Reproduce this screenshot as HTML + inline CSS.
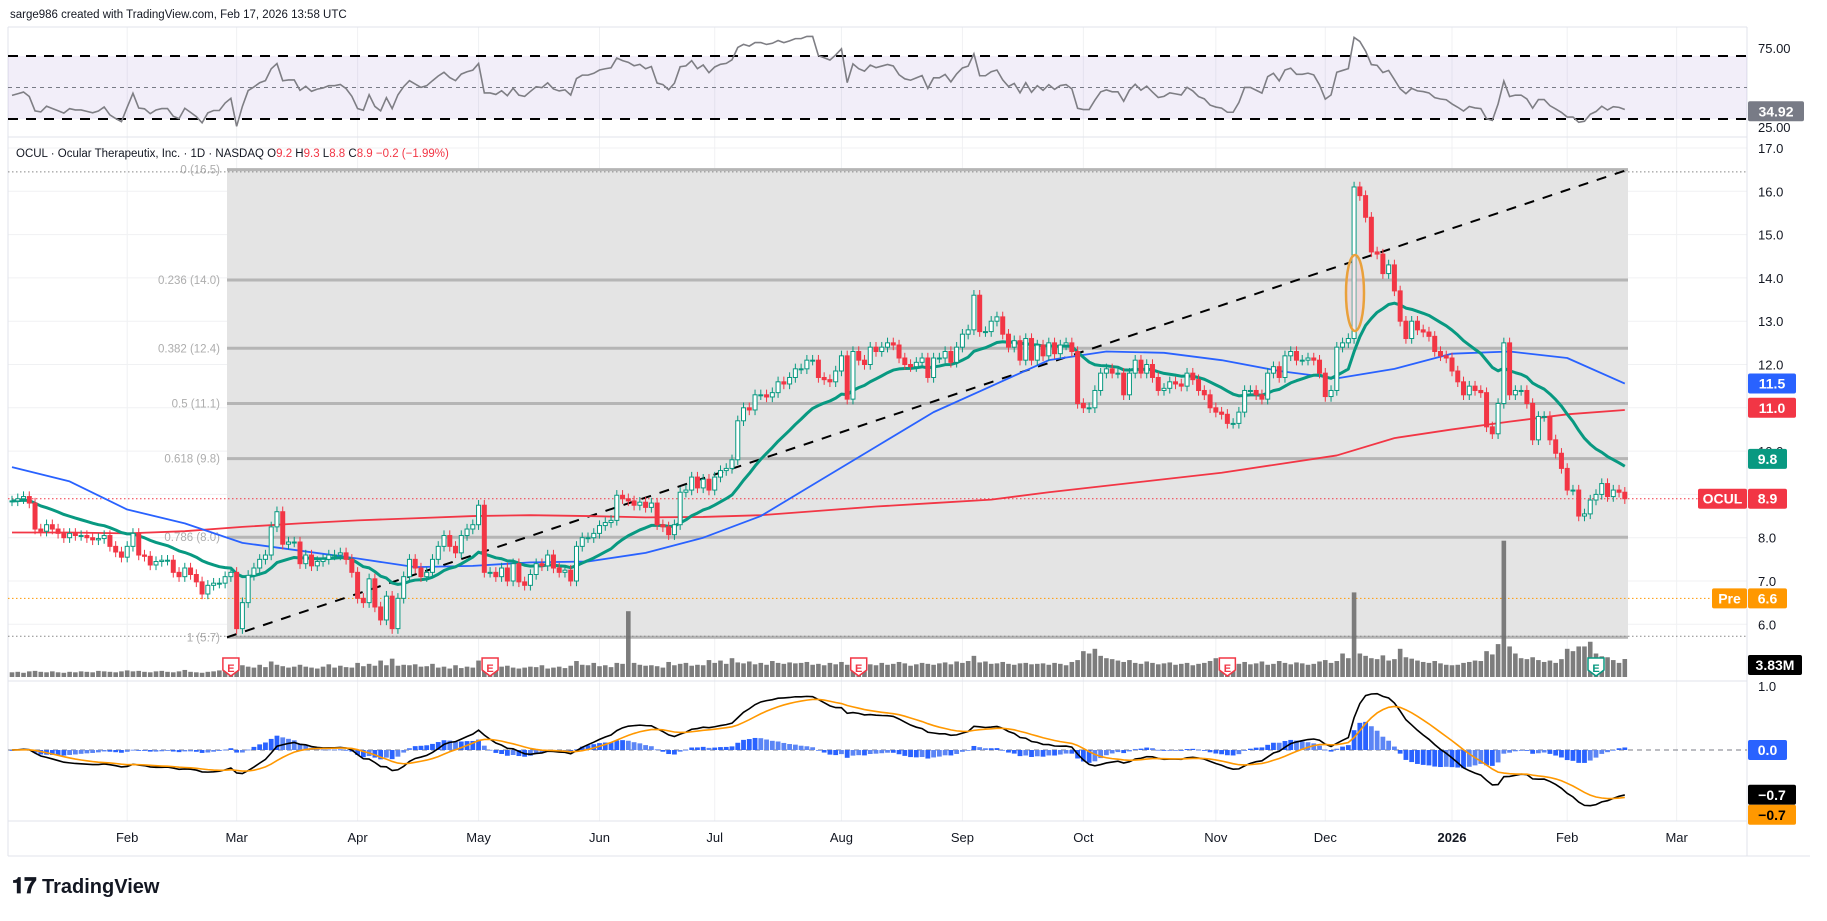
<!DOCTYPE html>
<html><head><meta charset="utf-8"><style>
html,body{margin:0;padding:0;background:#fff;}
body{width:1827px;height:916px;overflow:hidden;font-family:"Liberation Sans",sans-serif;}
svg text{font-family:"Liberation Sans",sans-serif;}
</style></head><body>
<svg id="chart" width="1827" height="916" viewBox="0 0 1827 916" xmlns="http://www.w3.org/2000/svg">
<rect x="0" y="0" width="1827" height="916" fill="#fff"/>
<text x="10" y="18" font-size="11.5" fill="#131722">sarge986 created with TradingView.com, Feb 17, 2026 13:58 UTC</text>
<g id="grid"></g>
<g id="rsi"></g>
<g id="price"></g>
<g id="macd"></g>
<g id="axes"></g>
<text x="16" y="157" font-size="11.5" fill="#131722">OCUL · Ocular Therapeutix, Inc. · 1D · NASDAQ  O<tspan fill="#F23645">9.2</tspan>  H<tspan fill="#F23645">9.3</tspan>  L<tspan fill="#F23645">8.8</tspan>  C<tspan fill="#F23645">8.9</tspan>  <tspan fill="#F23645">−0.2 (−1.99%)</tspan></text>
<g>
<text x="12" y="893" font-size="22" font-weight="bold" fill="#131722">𝟏𝟕</text>
<text x="42" y="893" font-size="20" font-weight="bold" fill="#131722">TradingView</text>
</g>
</svg>
<script>
// ---- data ----
const monthLabels = ["Feb","Mar","Apr","May","Jun","Jul","Aug","Sep","Oct","Nov","Dec","2026","Feb","Mar"];
const monthBarIdx = [20,39,60,81,102,122,144,165,186,209,228,250,270,289];
const closes = [
8.85,8.9,8.95,8.8,8.2,8.15,8.3,8.2,8.1,8.0,8.1,8.05,8.05,8.0,7.95,7.98,8.05,7.8,7.67,7.55,
7.8,8.1,7.6,7.57,7.37,7.45,7.48,7.48,7.2,7.1,7.3,7.15,6.98,6.7,6.9,6.95,6.95,7.1,7.2,
5.9,6.5,7.13,7.3,7.5,7.6,8.25,8.6,7.85,7.9,7.9,7.4,7.6,7.35,7.45,7.5,7.6,7.6,7.65,7.5,7.2,
6.6,6.5,7.05,6.4,6.1,6.65,5.9,6.6,7.1,7.5,7.3,7.1,7.2,7.5,7.8,8.05,7.8,7.65,8.05,8.2,8.3,
8.75,7.2,7.2,7.1,7.3,7.0,7.4,6.98,6.9,7.15,7.4,7.35,7.6,7.3,7.2,7.25,7.0,7.8,8.0,8.0,8.1,
8.28,8.35,8.4,8.98,8.9,8.85,8.75,8.82,8.7,8.8,8.3,8.25,8.07,8.3,9.05,9.1,9.4,9.15,9.35,9.1,
9.4,9.55,9.6,9.8,10.7,11.0,10.95,11.3,11.3,11.25,11.35,11.6,11.55,11.7,11.9,11.9,12.1,12.1,11.7,11.65,11.6,11.85,
12.2,11.2,12.3,12.1,12.0,12.4,12.3,12.4,12.5,12.45,12.15,12.0,11.95,12.05,12.15,11.7,12.15,12.15,12.3,12.05,12.4,
12.7,12.8,13.6,12.76,12.76,13.0,13.1,12.7,12.4,12.55,12.1,12.6,12.1,12.45,12.2,12.5,12.25,12.45,12.5,12.3,11.1,
11.0,11.0,11.4,11.8,11.9,11.8,11.8,11.3,11.8,12.1,11.8,12.0,11.7,11.4,11.45,11.6,11.55,11.5,11.8,11.65,11.4,11.3,11.0,
10.9,10.85,10.64,10.64,10.9,11.4,11.4,11.3,11.2,11.8,11.95,11.7,12.2,12.3,12.1,12.1,12.15,12.1,11.8,
11.26,11.4,12.4,12.5,12.6,16.1,15.9,15.4,14.6,14.55,14.1,14.3,13.7,13.0,12.6,13.0,12.8,12.75,12.65,12.3,12.2,12.15,
11.85,11.6,11.3,11.5,11.4,11.35,10.56,10.4,11.1,12.5,11.3,11.4,11.4,11.1,10.26,10.8,10.8,10.26,9.95,9.6,
9.1,9.1,8.5,8.55,8.87,9.0,9.25,8.95,9.1,9.05,8.9];
const volumes = [
1.0,1.1,0.9,1.2,1.3,1.1,1.0,1.2,1.0,0.9,1.1,1.0,1.2,1.1,1.0,1.3,1.2,1.1,1.0,1.2,
1.4,1.2,1.3,1.1,1.0,1.2,1.3,1.1,1.0,1.2,1.5,1.1,1.0,0.9,1.1,1.2,1.4,1.3,1.6,
3.5,2.5,2.2,2.0,2.6,2.1,3.3,2.6,2.3,2.0,2.2,2.6,2.2,2.0,1.8,2.2,2.7,2.0,2.4,2.1,2.0,
3.0,2.3,2.8,2.4,3.5,2.5,3.9,2.4,2.6,2.5,2.7,2.2,2.3,2.8,2.0,2.2,1.8,2.5,1.9,2.2,2.0,
3.5,2.3,2.1,2.5,2.2,2.4,2.0,1.8,2.0,2.2,2.1,2.5,1.8,2.0,2.2,1.9,2.4,3.4,2.6,2.5,3.0,
2.3,2.5,2.1,3.0,2.8,14.0,3.0,2.6,2.4,2.5,2.3,2.0,3.2,2.5,2.8,3.0,2.4,2.6,2.5,3.6,
3.0,3.5,2.8,4.0,3.1,2.9,3.3,2.7,3.0,2.6,3.4,3.0,2.8,3.1,2.9,3.0,3.2,2.6,2.8,2.5,3.0,2.7,
3.2,2.6,3.0,3.5,2.8,2.7,2.5,3.0,2.6,2.8,3.2,2.9,2.4,2.7,3.0,2.8,2.6,2.9,3.1,2.7,3.3,
3.0,3.4,4.5,3.1,3.3,2.8,2.9,3.2,2.8,2.6,2.9,3.0,2.7,2.8,2.9,2.6,3.0,2.8,2.5,3.2,3.6,
5.5,5.0,6.0,4.5,4.0,3.8,3.5,3.2,3.6,3.0,2.8,3.3,3.0,2.7,2.9,3.1,2.6,2.8,3.0,2.5,2.8,3.0,3.4,
4.0,3.5,3.0,3.7,2.8,3.2,2.7,2.9,3.3,2.6,2.8,3.4,3.0,2.7,3.1,2.9,2.6,2.8,3.3,
3.6,3.0,3.4,5.0,4.0,18.0,5.0,4.5,4.0,3.8,4.6,3.5,3.8,6.0,4.2,3.9,3.5,3.2,3.0,3.4,2.9,2.6,
2.5,2.6,3.0,3.2,3.5,3.4,5.5,4.8,7.0,29.0,6.5,5.0,4.0,3.8,4.2,3.6,3.2,3.5,3.0,3.8,
6.0,5.5,6.5,6.5,7.5,5.0,4.4,4.2,3.6,3.0,3.83];
const sma50Samples = [9.63,9.3,8.65,8.33,7.88,7.7,7.52,7.32,7.35,7.43,7.45,7.65,8.0,8.5,9.3,10.1,10.9,11.5,12.1,12.3,12.27,12.1,11.85,11.68,11.9,12.25,12.3,12.15,11.56];
const sma200Samples = [8.12,8.12,8.1,8.15,8.25,8.33,8.4,8.45,8.5,8.52,8.5,8.47,8.48,8.52,8.62,8.72,8.8,8.88,9.05,9.2,9.35,9.5,9.7,9.9,10.3,10.5,10.68,10.85,10.95];
const fibRatios = [0,0.236,0.382,0.5,0.618,0.786,1];
const fibHigh = 16.5, fibLow = 5.7;
const earningsIdx = [38,83,147,211,275];
const priceTicks = [17,16,15,14,13,12,11,10,9,8,7,6];
const rsiTicks = [75,25];
const macdTicks = [1.0];
const rsiSeedGain = 0.09, rsiSeedLoss = 0.11;

// ---- scales ----
const X0=12, STEP=5.76;
const xOf = i => X0 + i*STEP;
const yP = p => 148 + (17-p)*43.3;
const yR = r => 87.5 - (r-50)*1.575;
const yM = m => 750 - m*64;
const VBASE=677, yV = v => VBASE - v*4.7;
const NS="http://www.w3.org/2000/svg";
function el(tag, parent, attrs){const e=document.createElementNS(NS,tag);for(const k in attrs)e.setAttribute(k,attrs[k]);parent.appendChild(e);return e;}
const G=document.getElementById('grid'),RS=document.getElementById('rsi'),PR=document.getElementById('price'),MC=document.getElementById('macd'),AX=document.getElementById('axes');
const N=closes.length;
const opens=closes.map((c,i)=>i?closes[i-1]:c);
const fibPrices=fibRatios.map(r=>fibHigh-(fibHigh-fibLow)*r);

// grid
monthBarIdx.forEach(i=>{const l=el('line',G,{x1:xOf(i),x2:xOf(i),y1:27,y2:821,stroke:'#f0f1f3','stroke-width':1});

});
priceTicks.forEach(p=>{const l=el('line',G,{x1:8,x2:1747,y1:yP(p),y2:yP(p),stroke:'#f0f1f3'});

});
[[8,27,1747,27],[8,137,1747,137],[8,681,1747,681],[8,821,1747,821],[8,856,1810,856],[1747,27,1747,856],[8,27,8,856]].forEach(a=>{const l=el('line',G,{x1:a[0],y1:a[1],x2:a[2],y2:a[3],stroke:'#e0e3eb'});

});

// RSI (Wilder, seeded)
const rsi=[];{let ag=rsiSeedGain,al=rsiSeedLoss;for(let i=0;i<N;i++){if(i>0){const d=closes[i]-closes[i-1];ag=(ag*13+Math.max(d,0))/14;al=(al*13+Math.max(-d,0))/14;}
rsi.push(al===0?100:100-100/(1+ag/al));}}
const band=el('rect',RS,{x:8,y:yR(70),width:1739,height:yR(30)-yR(70),fill:'#7e57c2','fill-opacity':0.1});


[70,30].forEach(v=>{const l=el('line',RS,{x1:8,x2:1747,y1:yR(v),y2:yR(v),stroke:'#000','stroke-width':2,'stroke-dasharray':'10 8'});

});
const mid=el('line',RS,{x1:8,x2:1747,y1:yR(50),y2:yR(50),stroke:'#787b86','stroke-dasharray':'4 4'});


const rl=el('polyline',RS,{points:rsi.map((r,i)=>xOf(i)+','+yR(r)).join(' '),fill:'none',stroke:'#7e7e84','stroke-width':1.6});



// Fib box
const fb=el('rect',PR,{x:227,y:yP(fibHigh),width:1628-227,height:yP(fibLow)-yP(fibHigh),fill:'#e4e4e4'});


fibPrices.forEach((p,k)=>{const l=el('line',PR,{x1:227,x2:1628,y1:yP(p),y2:yP(p),stroke:'#b5b5b5','stroke-width':3});


const t=el('text',PR,{x:220,y:yP(p)+4,'text-anchor':'end','font-size':11.5,fill:'#adadad'});


t.textContent=fibRatios[k]+' ('+p.toFixed(1)+')';});
// dotted lines
[[yP(16.45),'#888'],[yP(fibLow)-1,'#888'],[yP(8.9),'#F23645'],[yP(6.6),'#FF9800']].forEach(a=>{const l=el('line',PR,{x1:8,x2:1747,y1:a[0],y2:a[0],stroke:a[1],'stroke-dasharray':'1.5 2.5'});

});
// volume
volumes.forEach((v,i)=>{const r=el('rect',PR,{x:xOf(i)-2.3,y:yV(v),width:4.6,height:VBASE-yV(v),fill:'#6f6f6f','fill-opacity':0.9});

});
// trend line
const tl=el('line',PR,{x1:227,y1:yP(fibLow),x2:1628,y2:yP(fibHigh),stroke:'#000','stroke-width':2,'stroke-dasharray':'10 9'});


// MAs
function sampleLine(arr,color,w,name){const pts=arr.map((v,k)=>xOf(Math.min(k*10,N-1))+','+yP(v)).join(' ');
const l=el('polyline',PR,{points:pts,fill:'none',stroke:color,'stroke-width':w,'stroke-linejoin':'round'});

}
sampleLine(sma200Samples,'#F23645',1.8,'sma-200-line');
sampleLine(sma50Samples,'#2962FF',1.8,'sma-50-line');
const ema20=[];closes.forEach((c,i)=>{ema20.push(i?ema20[i-1]+(c-ema20[i-1])*2/21:c);});
const el20=el('polyline',PR,{points:ema20.map((v,i)=>xOf(i)+','+yP(v)).join(' '),fill:'none',stroke:'#089981','stroke-width':3,'stroke-linejoin':'round'});


// candles
closes.forEach((c,i)=>{const o=opens[i],up=c>=o,col=up?'#089981':'#F23645';const x=xOf(i);
const hi=Math.max(o,c)+0.12,lo=Math.min(o,c)-0.12;
const w=el('line',PR,{x1:x,x2:x,y1:yP(hi),y2:yP(lo),stroke:col,'stroke-width':1});


const top=yP(Math.max(o,c)),h=Math.max(1,yP(Math.min(o,c))-top);
const b=el('rect',PR,{x:x-2,y:top,width:4,height:h,fill:up?'#fff':col,stroke:col,'stroke-width':1});

});
// ellipse annotation
const ell=el('ellipse',PR,{cx:1355,cy:293,rx:9,ry:38,fill:'#f3c6cf','fill-opacity':0.4,stroke:'#e9a13b','stroke-width':2.5});


// earnings markers
earningsIdx.forEach((i,k)=>{const x=xOf(i),col=k===earningsIdx.length-1?'#089981':'#F23645';
const g=el('g',PR,{});


el('path',g,{d:`M${x-8} ${658}h16v12l-8 6l-8 -6z`,fill:'#fff',stroke:col,'stroke-width':1.5});
const t=el('text',g,{x:x,y:672,'text-anchor':'middle','font-size':11,fill:col,'font-weight':'bold'});t.textContent='E';});

// MACD
function ema(arr,n){const o=[];arr.forEach((v,i)=>o.push(i?o[i-1]+(v-o[i-1])*2/(n+1):v));return o;}
const e12=ema(closes,12),e26=ema(closes,26);const macd=e12.map((v,i)=>v-e26[i]);const sig=ema(macd,9);
const zl=el('line',MC,{x1:8,x2:1747,y1:yM(0),y2:yM(0),stroke:'#787b86','stroke-dasharray':'5 4'});


macd.forEach((m,i)=>{const h=m-sig[i],prev=i?macd[i-1]-sig[i-1]:0;const strong=Math.abs(h)>=Math.abs(prev);
const y1=yM(Math.max(h,0)),y2=yM(Math.min(h,0));
const r=el('rect',MC,{x:xOf(i)-2.4,y:y1,width:4.8,height:Math.max(0.8,y2-y1),fill:strong?'#2962FF':'#5b85f5'});

});
const ml=el('polyline',MC,{points:macd.map((v,i)=>xOf(i)+','+yM(v)).join(' '),fill:'none',stroke:'#000','stroke-width':1.6});


const sl=el('polyline',MC,{points:sig.map((v,i)=>xOf(i)+','+yM(v)).join(' '),fill:'none',stroke:'#FF9800','stroke-width':1.6});



// axes labels
function txt(x,y,s,opt,name){const t=el('text',AX,Object.assign({x:x,y:y,'font-size':13,fill:'#131722'},opt||{}));


t.textContent=s;return t;}
monthLabels.forEach((m,k)=>txt(xOf(monthBarIdx[k]),842,m,{'text-anchor':'middle','font-weight':m==='2026'?'bold':'normal'},'time-axis-label'));
priceTicks.forEach(p=>txt(1758,yP(p)+5,p.toFixed(1),{},'price-axis-label'));
txt(1758,yP(5)+5,'5.0',{},'price-axis-label');
rsiTicks.forEach(r=>txt(1758,yR(r)+5,r.toFixed(2),{},'rsi-axis-label'));
macdTicks.forEach(m=>txt(1758,yM(m)+5,m.toFixed(1),{},'macd-axis-label'));
function badge(x,y,w,txtS,bg,fg,name){const g=el('g',AX,{});


el('rect',g,{x:x,y:y-10,width:w,height:20,fill:bg,rx:2});
const t=el('text',g,{x:x+w/2,y:y+5,'text-anchor':'middle','font-size':14,fill:fg,'font-weight':'bold'});t.textContent=txtS;}
badge(1748,yP(11.56),48,'11.5','#2962FF','#fff','sma50-price-badge');
badge(1748,yP(11.0),48,'11.0','#F23645','#fff','sma200-price-badge');
badge(1748,yP(9.82),39,'9.8','#089981','#fff','ema20-price-badge');
badge(1748,yP(8.9),39,'8.9','#F23645','#fff','last-price-badge');
badge(1698,yP(8.9),49,'OCUL','#F23645','#fff','symbol-badge');
badge(1748,yP(6.6),39,'6.6','#FF9800','#fff','premarket-price-badge');
badge(1712,yP(6.6),35,'Pre','#FF9800','#fff','premarket-label-badge');
badge(1748,665,54,'3.83M','#000','#fff','volume-badge');
badge(1748,yR(34.92),56,'34.92','#787b86','#fff','rsi-value-badge');
badge(1748,yM(0),39,'0.0','#2962FF','#fff','macd-hist-badge');
badge(1748,yM(-0.7),48,'−0.7','#000','#fff','macd-value-badge');
badge(1748,yM(-0.7)+20,48,'−0.7','#FF9800','#000','signal-value-badge');
</script>
</body></html>
